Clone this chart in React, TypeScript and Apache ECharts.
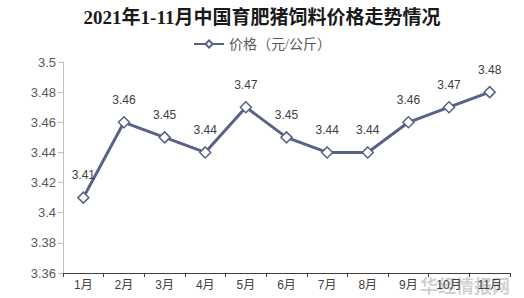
import React, { useEffect, useRef } from "react";
import * as echarts from "echarts";

const categories = ["1月", "2月", "3月", "4月", "5月", "6月", "7月", "8月", "9月", "10月", "11月"];
const prices = [3.41, 3.46, 3.45, 3.44, 3.47, 3.45, 3.44, 3.44, 3.46, 3.47, 3.48];
const seriesName = "价格（元/公斤）";
const titleText = "2021年1-11月中国育肥猪饲料价格走势情况";

export default function App() {
  const ref = useRef<HTMLDivElement>(null);
  useEffect(() => {
    if (!ref.current) return;
    const chart = echarts.init(ref.current, undefined, { renderer: "svg" });
    const lineColor = "#5a6187";
    chart.setOption({
      animation: false,
      backgroundColor: "#ffffff",
      title: {
        text: titleText,
        left: "center",
        top: 3,
        textStyle: {
          fontFamily: "Liberation Serif, Noto Sans CJK SC, serif",
          fontSize: 19,
          fontWeight: "bold",
          color: "#1a1a1a",
        },
      },
      legend: {
        top: 32,
        left: "center",
        itemWidth: 30,
        itemHeight: 9,
        itemGap: 4,
        textStyle: {
          fontFamily: "Liberation Serif, Noto Sans CJK SC, serif",
          fontSize: 14,
          color: "#595959",
        },
        data: [seriesName],
      },
      grid: { left: 63, right: 14, top: 62, bottom: 25, containLabel: false },
      xAxis: {
        type: "category",
        data: categories,
        boundaryGap: true,
        axisLine: { lineStyle: { color: "#404040", width: 1 } },
        axisTick: { show: true, alignWithLabel: false, length: 4, lineStyle: { color: "#404040" } },
        axisLabel: {
          fontFamily: "Liberation Sans, Noto Sans CJK SC, sans-serif",
          fontSize: 12,
          color: "#404040",
          margin: 6,
        },
      },
      yAxis: {
        type: "value",
        min: 3.36,
        max: 3.5,
        interval: 0.02,
        axisLine: { show: true, lineStyle: { color: "#bfbfbf" } },
        axisTick: { show: true, length: 5, lineStyle: { color: "#bfbfbf" } },
        splitLine: { show: false },
        axisLabel: {
          fontFamily: "Liberation Sans, sans-serif",
          fontSize: 13,
          color: "#595959",
          margin: 7,
          formatter: (v: number) => String(parseFloat(v.toFixed(2))),
        },
      },
      series: [
        {
          name: seriesName,
          type: "line",
          data: prices,
          symbol: "diamond",
          symbolSize: 11,
          lineStyle: { color: lineColor, width: 3 },
          itemStyle: { color: "#ffffff", borderColor: lineColor, borderWidth: 1.5 },
          label: {
            show: true,
            position: "top",
            distance: 10,
            fontFamily: "Liberation Sans, sans-serif",
            fontSize: 12,
            color: "#404040",
            formatter: (p: any) => p.value.toFixed(2),
          },
        },
      ],
      graphic: [
        {
          type: "text",
          right: 14,
          bottom: 4,
          silent: true,
          style: {
            text: "华经情报网",
            fontFamily: "Noto Sans CJK SC, sans-serif",
            fontSize: 18,
            fontWeight: "bold",
            fill: "rgba(120,120,120,0.35)",
          },
        },
      ],
    });
    return () => chart.dispose();
  }, []);
  return <div ref={ref} style={{ width: 524, height: 298, position: "absolute", left: 0, top: 0 }} />;
}
